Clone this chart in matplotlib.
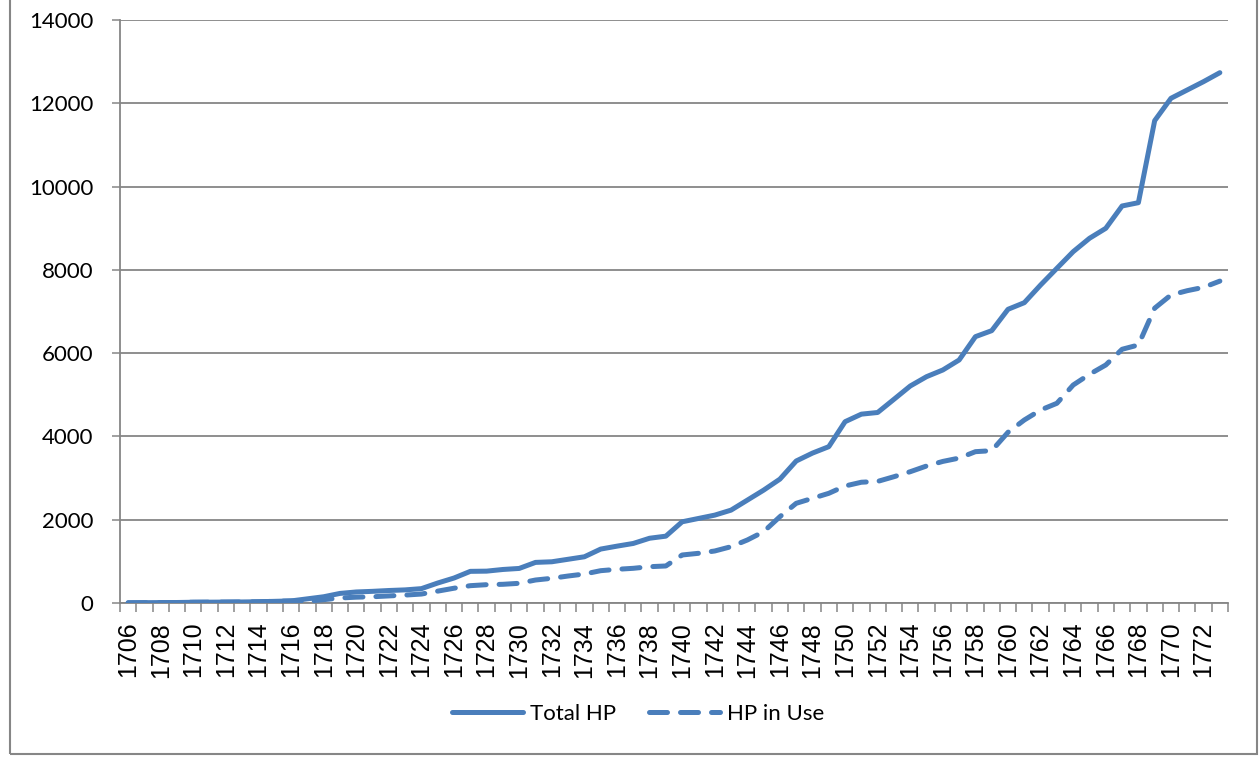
import matplotlib
matplotlib.use("Agg")
import matplotlib.pyplot as plt
from matplotlib.patches import Rectangle
import numpy as np

years = list(range(1706, 1774))
total_hp = [5, 8, 10, 12, 18, 20, 22, 25, 30, 40, 50, 100, 150, 230, 265, 280, 300, 315, 345, 480,
            600, 760, 765, 805, 830, 975, 990, 1050, 1110, 1295, 1365, 1430, 1555, 1605, 1950, 2030,
            2110, 2230, 2470, 2710, 2975, 3410, 3600, 3754, 4354, 4535, 4575, 4892, 5211, 5435, 5596,
            5836, 6396, 6540, 7053, 7212, 7637, 8038, 8437, 8758, 8998, 9534, 9613, 11583, 12120,
            12320, 12520, 12735]
hp_in_use = [5, 8, 10, 12, 18, 20, 22, 25, 30, 40, 50, 40, 80, 120, 140, 150, 170, 190, 215, 285,
             355, 416, 440, 449, 473, 552, 593, 648, 696, 776, 809, 833, 872, 889, 1153, 1193, 1249,
             1352, 1513, 1712, 2073, 2394, 2514, 2634, 2810, 2900, 2920, 3033, 3153, 3290, 3400, 3480,
             3634, 3658, 4100, 4395, 4635, 4796, 5235, 5492, 5716, 6093, 6196, 7080, 7397, 7500, 7580,
             7730]
series_names = ["Total HP", "HP in Use"]
y_ticks = [0, 2000, 4000, 6000, 8000, 10000, 12000, 14000]

W, H = 1259, 761
fig = plt.figure(figsize=(W / 100, H / 100), dpi=100)
ax = fig.add_axes([120 / W, 1 - 603 / H, (1228 - 120) / W, (603 - 20) / H])

color = "#4A7EBB"
grid_c = "#868686"
x = np.arange(len(years))

ax.plot(x, total_hp, color=color, lw=3.6, solid_capstyle="round", solid_joinstyle="round",
        label=series_names[0], zorder=3)
ax.plot(x, hp_in_use, color=color, lw=3.6, linestyle=(0, (3.6, 2.6)), dash_capstyle="round",
        dash_joinstyle="round", label=series_names[1], zorder=3)

ax.set_xlim(-0.5, len(years) - 0.5)
ax.set_ylim(0, 14000)

ax.set_yticks(y_ticks)
ax.set_yticklabels([str(v) for v in y_ticks], family="Lato", fontsize=16)
ax.yaxis.grid(True, color=grid_c, lw=1.3)
ax.set_axisbelow(True)

ax.set_xticks(np.arange(-0.5, len(years), 1.0))
ax.set_xticklabels([])
label_idx = [i for i, yv in enumerate(years) if (yv - 1706) % 2 == 0]
ax.set_xticks(label_idx, minor=True)
ax.set_xticklabels([str(years[i]) for i in label_idx], minor=True, rotation=90,
                   family="Liberation Sans", fontsize=18, va="top")
ax.tick_params(axis="x", which="major", direction="out", length=6.5, width=1.1, color=grid_c)
ax.tick_params(axis="x", which="minor", length=0, pad=13.5)
ax.tick_params(axis="y", direction="out", length=5.8, width=1.1, color=grid_c, pad=13.5)

for s in ["top", "right"]:
    ax.spines[s].set_visible(False)
for s in ["left", "bottom"]:
    ax.spines[s].set_color(grid_c)
    ax.spines[s].set_linewidth(1.3)

leg = fig.legend(loc="center", bbox_to_anchor=(638 / W, 1 - 714 / H), ncol=2, frameon=False,
                 prop={"family": "Lato", "size": 16}, handlelength=3.2, handletextpad=0.3,
                 columnspacing=1.5)

fig.patches.append(Rectangle((10 / W, 1 - 754 / H), (1257 - 10) / W, 754 / H + 0.02,
                             transform=fig.transFigure, fill=False, edgecolor=grid_c, lw=1.5))

fig.savefig("out.png", dpi=100)
